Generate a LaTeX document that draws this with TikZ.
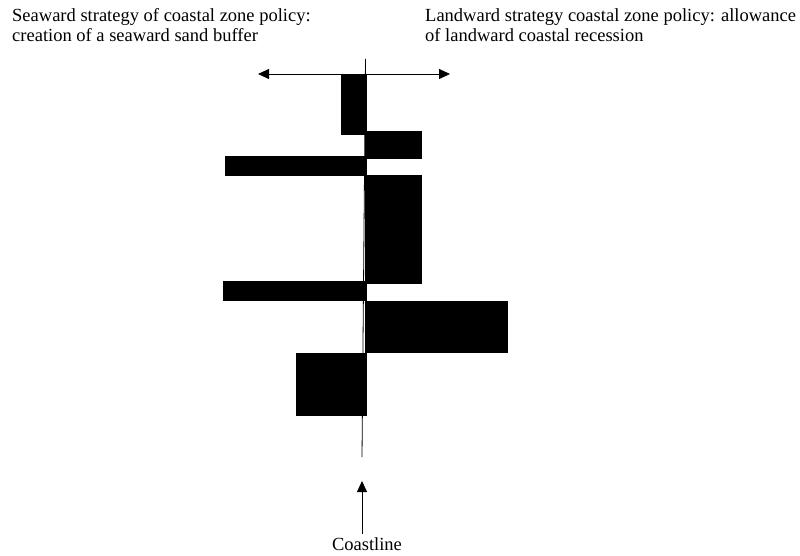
\documentclass[tikz,border=0pt]{standalone}
\usepackage{fontspec}
\setmainfont{Liberation Serif}
\usetikzlibrary{arrows.meta}
\begin{document}
\begin{tikzpicture}[x=1pt,y=-1pt,
  bar/.style={fill=black,draw=black,line width=0.6pt},
  lbl/.style={inner sep=0pt,anchor=base west,align=left,font=\fontsize{18.5}{20}\selectfont},
  arr/.style={line width=0.8pt,-{Triangle[length=11pt,width=10pt]}}]
\useasboundingbox (0,0) rectangle (800,556);
% bars
\path[bar] (341,74) rectangle (366,134);
\path[bar] (365,131) rectangle (421,158);
\path[bar] (225,156) rectangle (366,175);
\path[bar] (365,175) rectangle (421,283);
\path[bar] (223,281) rectangle (366,300);
\path[bar] (365,301) rectangle (507,352);
\path[bar] (296,353) rectangle (366,415);
% coastline
\coordinate (ctop) at (365.5,59);
\coordinate (cbot) at (362,457);
\draw[line width=0.8pt] (ctop) -- (cbot);
% double arrow
\coordinate (al) at (258,74);
\coordinate (ar) at (450,74);
\draw[line width=0.8pt,{Triangle[length=11pt,width=10pt]}-{Triangle[length=11pt,width=10pt]}] (al) -- (ar);
% labels
\node[lbl] (sea) at (12,42) {Seaward strategy of coastal zone policy:\\creation of a seaward sand buffer};
\node[lbl] (land) at (425,42) {Landward strategy coastal zone policy: allowance\\of landward coastal recession};
\node[inner sep=0pt,anchor=base,font=\fontsize{18.5}{20}\selectfont] (coast) at (367,550) {Coastline};
\coordinate (atip) at (362,481);
\draw[arr] (coast.north -| atip) ++(0,-3) coordinate (abase) (abase) -- (atip);
\end{tikzpicture}
\end{document}
